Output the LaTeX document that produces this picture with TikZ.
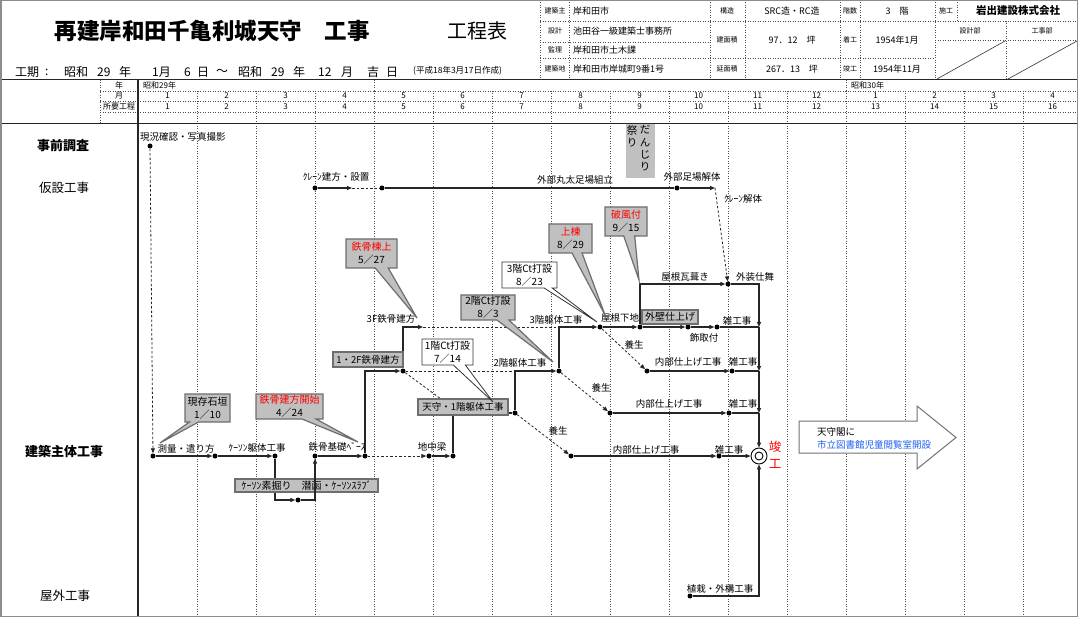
\documentclass[tikz,border=0pt]{standalone}
\usepackage{fontspec}
\setmainfont{Noto Sans CJK JP}
\usetikzlibrary{arrows.meta,shapes.callouts}
\definecolor{boxgray}{HTML}{C0C0C0}
\definecolor{edgegray}{HTML}{6E6E6E}
\definecolor{linkblue}{HTML}{2060F0}
\definecolor{alert}{HTML}{FF0000}
\begin{document}
\begin{tikzpicture}[x=1pt,y=-1pt,
  ln/.style={line width=1.1pt, black!85},
  dl/.style={line width=0.8pt, black!85, dash pattern=on 2.5pt off 2pt},
  ar/.style={-{Triangle[length=5pt,width=4pt]}},
  ev/.style={circle, fill=black, inner sep=0pt, minimum size=5pt},
  lb/.style={font=\fontsize{9.5}{10}\selectfont, inner sep=0pt},
  hd/.style={font=\fontsize{8}{8}\selectfont, inner sep=0pt},
  tlab/.style={font=\fontsize{7}{7}\selectfont, inner sep=0pt},
  tval/.style={font=\fontsize{9}{9}\selectfont, inner sep=0pt},
  gridln/.style={black!70, line width=0.6pt, dash pattern=on 1pt off 1.5pt},
  gbox/.style={draw=edgegray, line width=1.2pt, fill=boxgray, inner sep=0pt, font=\fontsize{9.5}{10}\selectfont},
  gcall/.style={rectangle callout, draw=edgegray, line width=1.2pt, fill=boxgray, align=center, inner sep=0pt, font=\fontsize{10}{13}\selectfont, callout pointer width=10pt},
  wcall/.style={gcall, fill=white, draw=black!80, line width=0.8pt},
]
\useasboundingbox (0,0) rectangle (1078,617);
\fill[white] (0,0) rectangle (1078,617);

% ---------- header: title ----------
\node[font=\fontsize{22.5}{23}\selectfont\bfseries, inner sep=0pt] (title) at (212,31) {再建岸和田千亀利城天守　工事};
\node[font=\fontsize{20}{20}\selectfont, inner sep=0pt] (kouteihyo) at (477,31) {工程表};
\foreach \x/\t in {15/工期, 45/:, 64/昭和, 97/29, 119/年, 152/1月, 184/6, 197/日, 216/～, 238/昭和, 271/29, 293/年, 318/12, 341/月, 367/吉, 386/日}
  \node[font=\fontsize{12}{12}\selectfont, inner sep=0pt, anchor=west] (ki\x) at (\x,72) {\t};
\node[font=\fontsize{8.5}{9}\selectfont, inner sep=0pt, anchor=west] (sakusei) at (413,71) {(平成18年3月17日作成)};

% ---------- header: table ----------
\begin{scope}[gridln]
\draw (540,0) -- (540,80);
\foreach \x in {569,710,745,840,860,935} \draw (\x,0) -- (\x,80);
\draw (957,0) -- (957,21);
\draw (1006,21) -- (1006,80);
\draw (540,21) -- (1078,21);
\draw (540,42) -- (710,42);
\draw (540,58) -- (935,58);
\draw (935,40) -- (1078,40);
\end{scope}
\draw[black!80, line width=0.6pt] (937,79) -- (1005,41);
\draw[black!80, line width=0.6pt] (1008,79) -- (1077,41);

\node[tlab] (hl1) at (555,11) {建築主};
\node[tval, anchor=west] (hv1) at (573,11) {岸和田市};
\node[tlab] (hl2) at (727,11) {構造};
\node[tval] (hv2) at (792,11) {SRC造・RC造};
\node[tlab] (hl3) at (850,11) {階数};
\node[tval] (hv3) at (897,11) {3　階};
\node[tlab] (hl4) at (946,11) {施工};
\node[font=\fontsize{10.5}{11}\selectfont\bfseries, inner sep=0pt] (hv4) at (1018,11) {岩出建設株式会社};
\node[tlab] (hl5) at (555,31) {設計};
\node[tval, anchor=west] (hv5) at (573,31) {池田谷一級建築士事務所};
\node[tlab] (hl6) at (555,50) {監理};
\node[tval, anchor=west] (hv6) at (573,50) {岸和田市土木課};
\node[tlab] (hl7) at (555,69) {建築地};
\node[tval, anchor=west] (hv7) at (573,69) {岸和田市岸城町9番1号};
\node[tlab] (hl8) at (727,40) {建面積};
\node[tval] (hv8) at (792,40) {97．12　坪};
\node[tlab] (hl9) at (727,69) {延面積};
\node[tval] (hv9) at (792,69) {267．13　坪};
\node[tlab] (hl10) at (850,40) {着工};
\node[tval] (hv10) at (897,40) {1954年1月};
\node[tlab] (hl11) at (850,69) {竣工};
\node[tval] (hv11) at (897,69) {1954年11月};
\node[tlab] (hl12) at (970,31) {設計部};
\node[tlab] (hl13) at (1042,31) {工事部};

% ---------- timeline header ----------
\draw[black!85, line width=1pt] (0,80) -- (1078,80);
\draw[gridln] (100,80) -- (100,124);
\foreach \y in {91,101,112} \draw[gridln] (100,\y) -- (1078,\y);
\draw[gridln] (374,80) -- (374,91);
\draw[gridln] (846,80) -- (846,91);
\foreach \k in {1,...,15} \draw[gridln] ({138+59*\k},91) -- ({138+59*\k},617);
\node[hd] (nen) at (119,85.5) {年};
\node[hd] (tsuki) at (119,96) {月};
\node[hd] (shoyo) at (119,106.5) {所要工程};
\node[hd, anchor=west] (s29) at (143,85.5) {昭和29年};
\node[hd, anchor=west] (s30) at (851,85.5) {昭和30年};
\foreach \i in {1,...,16} {
  \pgfmathtruncatemacro\mm{\i>12 ? \i-12 : \i}
  \node[hd] (mon\i) at ({108.5+59*\i},96) {\mm};
  \node[hd] (kt\i) at ({108.5+59*\i},106.5) {\i};
}
\draw[black!85, line width=1pt] (0,124) -- (1078,124);
\draw[black!85, line width=1.3pt] (138,80) -- (138,617);

% ---------- category labels ----------
\node[font=\fontsize{13}{13}\selectfont\bfseries, inner sep=0pt] (cat1) at (63,146) {事前調査};
\node[font=\fontsize{12.5}{13}\selectfont, inner sep=0pt] (cat2) at (64,188) {仮設工事};
\node[font=\fontsize{13}{13}\selectfont\bfseries, inner sep=0pt] (cat3) at (64,452) {建築主体工事};
\node[font=\fontsize{12.5}{13}\selectfont, inner sep=0pt] (cat4) at (65,596) {屋外工事};

% ---------- danjiri box ----------
\fill[boxgray] (626,124) rectangle (655,178);
\node[font=\fontsize{10.5}{12.3}\selectfont, inner sep=0pt, align=center] (dj1) at (645,148.5) {だ\\ん\\じ\\り};
\node[font=\fontsize{10.5}{12.3}\selectfont, inner sep=0pt, align=center] (dj2) at (632,136.5) {祭\\り};

% ---------- events ----------
\node[ev] (a0) at (150,146) {};
\node[ev] (a1) at (153,456) {};
\node[ev] (b) at (215,456) {};
\node[ev] (c) at (275,456) {};
\node[ev] (d) at (298,500) {};
\node[ev] (e) at (315,456) {};
\node[ev] (f) at (365,456) {};
\node[ev] (g1) at (429,456) {};
\node[ev] (g) at (453,456) {};
\node[ev] (h) at (515,413) {};
\node[ev] (j) at (403,371) {};
\coordinate (j2) at (423,327);
\coordinate (jx) at (441,399);
\node[ev] (i) at (559,371) {};
\node[ev] (k) at (600,327) {};
\node[ev] (l) at (640,327) {};
\node[ev] (l2) at (688,327) {};
\node[ev] (n) at (717,327) {};
\node[ev] (m) at (728,284) {};
\node[ev] (o) at (647,371) {};
\node[ev] (p) at (732,371) {};
\node[ev] (q) at (610,413) {};
\node[ev] (r) at (729,413) {};
\node[ev] (s) at (571,456) {};
\node[ev] (t) at (719,456) {};
\node[ev] (u) at (690,596) {};
\node[circle, draw, line width=0.9pt, minimum size=16pt, inner sep=0pt] (z) at (759,456) {};
\node[circle, draw, line width=0.9pt, minimum size=8pt, inner sep=0pt] (z2) at (759,456) {};
\coordinate (w1) at (759,327);
\coordinate (w2) at (759,371);
\coordinate (w3) at (759,413);
\node[ev] (v1) at (315,188) {};
\coordinate (v2) at (352,188);
\node[ev] (v3) at (382,188) {};
\node[ev] (v4) at (677,188) {};
\coordinate (v5) at (715,188);

% ---------- connectors ----------
\draw[dl,ar] (a0) -- (a1);
\draw[ln,ar] (a1) -- (b);
\draw[ln,ar] (b) -- (c);
\draw[ln,ar] (c) |- (d);
\node[gbox, minimum width=143pt, minimum height=13pt, font=\fontsize{10}{10}\selectfont] (caisson) at (306.5,485.5) {ｹｰｿﾝ素掘り　潜函・ｹｰｿﾝｽﾗﾌﾞ};
\draw[ln,ar] (d) -| (e);
\draw[ln,ar] (e) -- (f);
\draw[dl,ar] (f) -- (g1);
\draw[ln,ar] (g1) -- (g);
\draw[ln] (g) |- (h);
\draw[ln,ar] (f) |- (j);
\draw[ln,ar] (j) |- (j2);
\draw[dl] (j2) -- (i |- j2);
\draw[dl] (j) -- (h |- j);
\draw[dl] (j) -- (jx);
\draw[ln,ar] (h) |- (i);
\draw[ln,ar] (i) |- (k);
\draw[ln,ar] (k) -- (l);
\draw[ln,ar] (l) |- (m);
\draw[ln,ar] (l) -- (l2);
\draw[ln,ar] (l2) -- (n);
\draw[ln] (n) -- (w1);
\draw[ln,ar] (m) -| (w1);
\draw[ln,ar] (w1) -- (w2);
\draw[ln,ar] (w2) -- (w3);
\draw[ln,ar] (w3) -- (z);
\draw[dl,ar] (k) -- (o);
\draw[ln,ar] (o) -- (p);
\draw[ln] (p) -- (w2);
\draw[dl,ar] (i) -- (q);
\draw[ln,ar] (q) -- (r);
\draw[ln] (r) -- (w3);
\draw[dl,ar] (h) -- (s);
\draw[ln,ar] (s) -- (t);
\draw[ln,ar] (t) -- (z);
\draw[ln,ar] (u) -| (z);
\draw[ln,ar] (v1) -- (v2);
\draw[dl] (v2) -- (v3);
\draw[ln] (v3) -- (v4);
\draw[ln,ar] (v4) -- (v5);
\draw[dl,ar] (v5) -- (m);

% ---------- boxes on the paths ----------
\node[gbox, minimum width=70pt, minimum height=15pt] (b12f) at (368,359.5) {1・2F鉄骨建方};
\node[gbox, minimum width=90pt, minimum height=16pt] (tenbox) at (463,407) {天守・1階躯体工事};
\node[gbox, minimum width=56pt, minimum height=14pt, font=\fontsize{10}{10}\selectfont] (gaiheki) at (670,317) {外壁仕上げ};

% ---------- activity labels ----------
\node[lb, anchor=west] (la0) at (140,137) {現況確認・写真撮影};
\node[lb] (la1) at (186,449) {測量・遣り方};
\node[lb] (la2) at (257,448) {ｹｰｿﾝ躯体工事};
\node[lb] (la3) at (337,447) {鉄骨基礎ﾍﾞｰｽ};
\node[lb] (la4) at (432,447) {地中梁};
\node[lb] (la5) at (391,319) {3F鉄骨建方};
\node[lb] (la6) at (520,363) {2階躯体工事};
\node[lb] (la7) at (556,320) {3階躯体工事};
\node[lb] (la8) at (620,318) {屋根下地};
\node[lb] (la9) at (685,277) {屋根瓦葺き};
\node[lb] (la10) at (755,277) {外装仕舞};
\node[lb] (la11) at (704,338) {飾取付};
\node[lb] (la12) at (737,321) {雑工事};
\node[lb] (la13) at (743,362) {雑工事};
\node[lb] (la14) at (743,404) {雑工事};
\node[lb] (la15) at (729,450) {雑工事};
\node[lb] (la16) at (634,345) {養生};
\node[lb] (la17) at (601,388) {養生};
\node[lb] (la18) at (558,431) {養生};
\node[lb] (la19) at (688,362) {内部仕上げ工事};
\node[lb] (la20) at (669,404) {内部仕上げ工事};
\node[lb] (la21) at (646,450) {内部仕上げ工事};
\node[lb] (la22) at (720,589) {植栽・外構工事};
\node[lb] (la23) at (336,177) {ｸﾚｰﾝ建方・設置};
\node[lb] (la24) at (575,180) {外部丸太足場組立};
\node[lb] (la25) at (692,177) {外部足場解体};
\node[lb] (la26) at (743,199) {ｸﾚｰﾝ解体};
\node[font=\fontsize{12.5}{13}\selectfont, text=alert, inner sep=0pt] (shun1) at (775,447) {竣};
\node[font=\fontsize{12.5}{13}\selectfont, text=alert, inner sep=0pt] (shun2) at (775,464) {工};

% ---------- callouts ----------
\node[gcall, minimum width=45pt, minimum height=28pt, callout pointer width=9pt, callout absolute pointer={(160,443)}] (cb1) at (207.5,408) {現存石垣\\1／10};
\node[gcall, minimum width=67pt, minimum height=25pt, callout pointer width=14pt, callout absolute pointer={(358,442)}] (cb2) at (289.5,406.5) {\textcolor{alert}{鉄骨建方開始}\\4／24};
\node[gcall, minimum width=51pt, minimum height=29pt, callout pointer width=13pt, callout absolute pointer={(417,318)}] (cb3) at (371.5,253.5) {\textcolor{alert}{鉄骨棟上}\\5／27};
\node[wcall, minimum width=51pt, minimum height=26pt, callout pointer width=12pt, callout absolute pointer={(493,402)}] (cb4) at (447.5,352) {1階Ct打設\\7／14};
\node[gcall, minimum width=54pt, minimum height=25pt, callout pointer width=12pt, callout absolute pointer={(553,362)}] (cb5) at (488,307.5) {2階Ct打設\\8／3};
\node[wcall, minimum width=55pt, minimum height=26pt, callout pointer width=8pt, callout absolute pointer={(597,322)}] (cb6) at (529.5,275) {3階Ct打設\\8／23};
\node[gcall, minimum width=43pt, minimum height=29pt, callout pointer width=10pt, callout absolute pointer={(605,315)}] (cb7) at (570.5,238.5) {\textcolor{alert}{上棟}\\8／29};
\node[gcall, minimum width=42pt, minimum height=29pt, callout pointer width=11pt, callout absolute pointer={(639,280)}] (cb8) at (626,221.5) {\textcolor{alert}{破風付}\\9／15};

% ---------- big arrow note ----------
\draw[fill=white, draw=black!55, line width=1pt] (799,421) -- (917,421) -- (917,406) -- (956,437.5) -- (917,469) -- (917,453) -- (799,453) -- cycle;
\node[font=\fontsize{9.5}{10}\selectfont, inner sep=0pt, anchor=west] (note1) at (817,432) {天守閣に};
\node[font=\fontsize{9.5}{10}\selectfont, inner sep=0pt, anchor=west, text=linkblue] (note2) at (817,445) {市立図書館児童閲覧室開設};

% ---------- frame ----------
\draw[black!45, line width=1.5pt] (0.75,0.75) rectangle (1077.25,616.25);
\end{tikzpicture}
\end{document}
